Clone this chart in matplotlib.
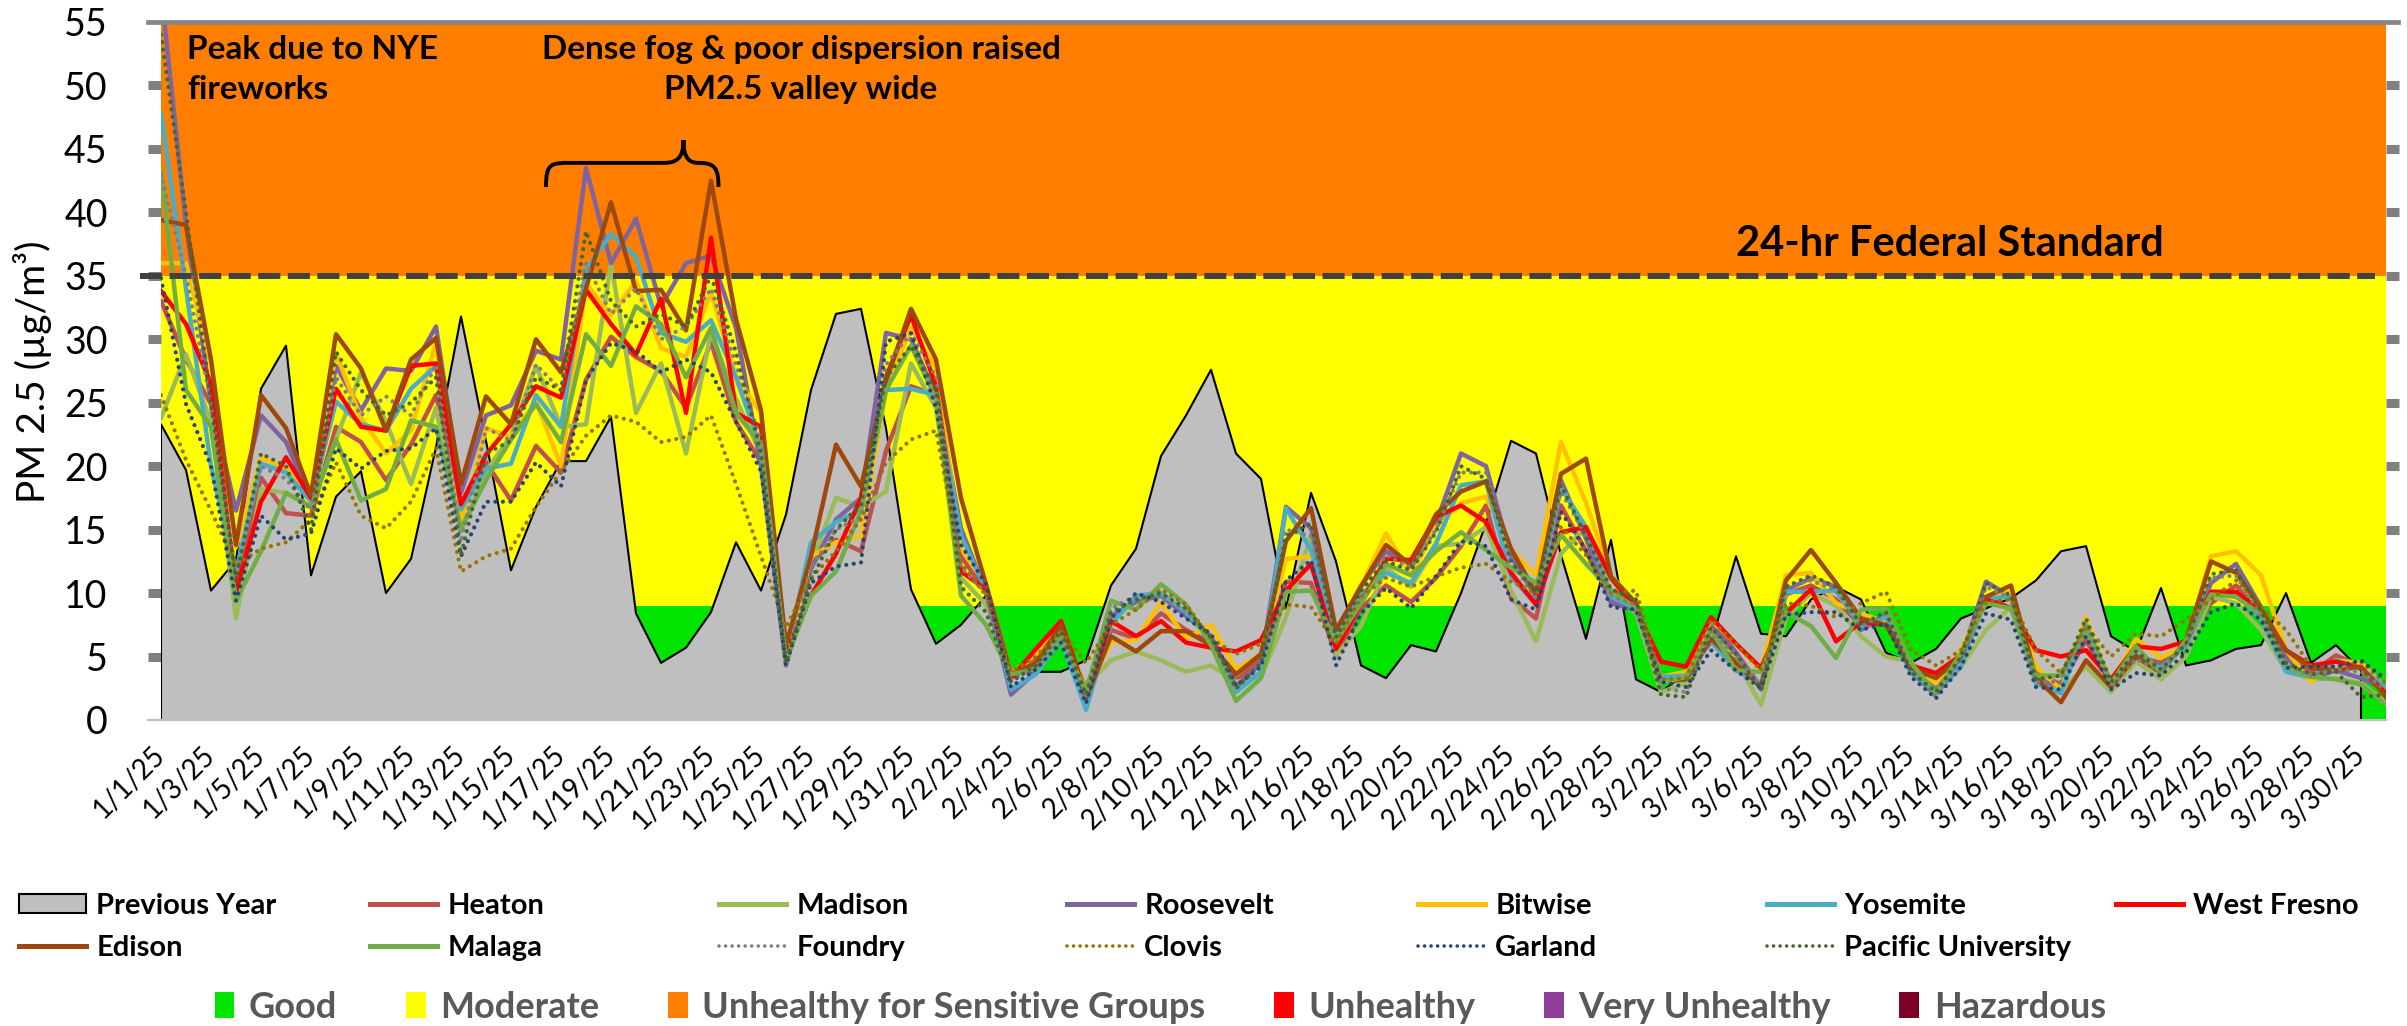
import numpy as np
import pandas as pd
import matplotlib
matplotlib.use('Agg')
import matplotlib.pyplot as plt
from matplotlib.lines import Line2D
from matplotlib.patches import Patch, PathPatch
from matplotlib.path import Path

plt.rcParams['font.family'] = ['Lato', 'DejaVu Sans']

W, H = 2407, 1026

# ---- data -------------------------------------------------------------
dates = pd.date_range('2025-01-01', '2025-03-31')
day_labels = [f"{d.month}/{d.day}/25" for d in dates]

prev_year = [23.3, 19.7, 10.2, 12.6, 26.1, 29.5, 11.4, 17.6, 19.6, 10.0,
             12.7, 21.5, 31.8, 22.0, 11.8, 16.8, 20.4, 20.4, 23.9, 8.4,
             4.5, 5.7, 8.5, 14.0, 10.2, 16.2, 26.0, 32.0, 32.4, 23.0,
             10.3, 6.0, 7.5, 9.8, 3.8, 3.8, 3.8, 4.7, 10.6, 13.5,
             20.8, 24.0, 27.6, 21.0, 19.0, 8.8, 17.9, 12.5, 4.3, 3.3,
             5.9, 5.4, 10.0, 15.5, 22.0, 21.0, 13.0, 6.4, 14.2, 3.2,
             2.2, 3.7, 6.0, 12.9, 6.8, 6.6, 9.5, 10.5, 9.5, 5.3,
             4.5, 5.6, 8.0, 8.8, 9.6, 11.0, 13.3, 13.7, 6.6, 5.4,
             10.4, 4.3, 4.7, 5.6, 5.9, 10.0, 4.5, 5.9, 3.9, np.nan]

heaton = [33.0, 28.4, 24.9, 10.8, 19.1, 16.3, 16.1, 23.1, 21.9, 18.9,
          21.7, 25.6, 17.0, 20.3, 17.3, 21.6, 19.5, 26.8, 30.2, 28.6,
          27.5, 24.6, 29.8, 23.5, 20.3, 4.5, 12.4, 14.2, 13.3, 21.2,
          26.3, 25.6, 12.9, 10.1, 3.3, 4.9, 7.0, 2.0, 7.1, 6.4,
          8.4, 7.1, 6.1, 3.1, 4.8, 10.9, 10.8, 5.1, 8.8, 10.6,
          9.3, 11.2, 13.7, 16.9, 9.6, 8.0, 16.9, 13.3, 9.5, 8.8,
          3.4, 3.7, 7.9, 5.3, 2.6, 9.9, 10.6, 9.5, 7.4, 7.9,
          3.8, 3.3, 5.0, 9.7, 8.8, 3.7, 2.8, 6.3, 2.9, 5.0,
          4.5, 6.0, 9.2, 10.6, 8.3, 5.0, 3.7, 5.1, 4.2, 2.2]

madison = [23.8, 28.8, 23.5, 8.0, 18.2, 17.9, 16.8, 22.1, 27.4, 23.5,
           18.6, 24.6, 14.9, 19.6, 22.4, 27.9, 23.1, 23.3, 36.0, 24.2,
           28.1, 21.0, 30.5, 25.3, 20.9, 4.5, 12.2, 17.5, 16.8, 18.0,
           28.1, 24.6, 11.2, 9.1, 3.8, 4.5, 6.8, 2.7, 4.7, 5.4,
           4.7, 3.8, 4.3, 3.0, 3.4, 8.1, 14.6, 5.1, 7.4, 12.0,
           10.5, 13.7, 13.9, 15.2, 10.2, 6.2, 13.1, 15.2, 10.2, 8.4,
           2.2, 2.9, 6.8, 4.7, 1.2, 8.1, 10.0, 9.0, 6.6, 5.0,
           4.6, 2.6, 4.2, 7.1, 8.9, 2.8, 2.4, 4.2, 2.2, 4.6,
           3.2, 5.0, 9.7, 9.2, 7.1, 3.9, 3.2, 3.3, 2.9, 1.4]

roosevelt = [57.5, 39.0, 25.0, 16.5, 24.0, 21.9, 17.3, 27.9, 24.4, 27.7,
             27.5, 31.0, 17.9, 24.0, 24.8, 29.1, 28.4, 43.5, 36.0, 39.5,
             32.6, 36.0, 36.6, 30.9, 20.0, 4.3, 11.9, 15.8, 17.5, 30.5,
             30.0, 25.6, 15.1, 10.1, 2.0, 3.8, 6.3, 2.4, 8.2, 9.3,
             9.8, 8.2, 6.6, 2.6, 4.5, 16.8, 15.1, 6.8, 10.6, 13.3,
             12.1, 15.5, 21.0, 20.0, 12.9, 9.7, 18.9, 14.3, 9.2, 8.7,
             3.2, 3.7, 7.4, 5.3, 2.4, 10.2, 11.2, 10.5, 7.1, 8.3,
             3.9, 2.4, 4.9, 10.9, 9.7, 3.2, 2.6, 7.2, 2.9, 5.1,
             4.2, 5.9, 10.8, 12.3, 8.9, 4.9, 3.3, 3.9, 3.3, 2.4]

bitwise = [36.0, 36.0, 28.0, 13.6, 20.7, 19.8, 17.9, 28.9, 23.8, 21.0,
           22.8, 29.8, 15.4, 23.0, 22.3, 25.1, 20.0, 34.4, 31.9, 34.6,
           29.3, 28.6, 33.7, 27.0, 24.2, 4.5, 12.9, 14.0, 14.5, 26.0,
           30.9, 27.7, 13.5, 10.7, 3.6, 5.2, 7.3, 2.2, 6.1, 6.3,
           9.3, 6.4, 7.5, 4.0, 5.2, 12.7, 12.9, 6.3, 10.5, 14.7,
           11.4, 15.2, 17.1, 17.6, 13.4, 11.4, 21.9, 17.1, 11.4, 9.2,
           3.4, 3.8, 7.9, 6.0, 3.9, 11.4, 11.6, 9.2, 8.4, 7.7,
           4.5, 2.9, 5.5, 9.5, 10.1, 4.2, 2.4, 8.1, 2.9, 6.4,
           4.9, 5.9, 12.9, 13.3, 11.4, 5.5, 3.0, 4.7, 4.5, 2.5]

yosemite = [47.8, 34.0, 20.0, 11.7, 20.2, 19.5, 17.2, 25.1, 23.3, 22.8,
            26.1, 27.9, 16.6, 19.8, 20.2, 25.6, 23.1, 35.5, 38.3, 36.5,
            30.5, 29.8, 31.5, 27.0, 21.4, 4.9, 14.0, 15.6, 16.5, 26.0,
            26.1, 25.6, 14.5, 10.3, 2.4, 3.6, 6.4, 0.8, 7.5, 9.8,
            10.0, 8.5, 6.3, 2.2, 3.8, 16.7, 13.4, 6.6, 9.9, 11.6,
            10.8, 13.9, 18.5, 18.8, 11.3, 9.1, 18.3, 15.2, 9.7, 8.8,
            3.4, 3.5, 6.2, 3.9, 2.9, 10.1, 10.1, 10.2, 7.4, 8.1,
            3.7, 2.1, 4.2, 9.6, 9.7, 2.9, 2.1, 7.5, 2.9, 4.9,
            4.1, 5.9, 10.1, 9.9, 8.0, 3.8, 3.4, 4.7, 4.1, 2.6]

west_fresno = [33.8, 31.2, 26.5, 10.1, 17.2, 20.7, 17.5, 26.1, 23.1, 22.8,
               27.9, 28.1, 17.0, 20.9, 23.3, 26.3, 25.4, 33.9, 31.2, 28.8,
               33.2, 24.2, 38.0, 24.2, 23.1, 5.2, 9.8, 13.1, 17.5, 27.0,
               31.9, 26.3, 11.7, 10.3, 3.3, 5.6, 7.8, 2.0, 7.8, 6.6,
               7.8, 6.1, 5.7, 5.4, 6.3, 10.2, 12.3, 5.6, 9.2, 12.7,
               12.6, 16.0, 16.9, 15.6, 11.6, 9.1, 14.8, 15.2, 11.2, 8.7,
               4.6, 4.2, 8.1, 6.0, 4.1, 8.4, 10.3, 6.2, 7.7, 7.5,
               4.3, 3.7, 5.1, 9.5, 8.8, 5.5, 5.0, 5.5, 3.2, 5.8,
               5.6, 6.2, 10.1, 10.1, 8.5, 5.5, 4.3, 4.6, 4.1, 2.1]

edison = [39.4, 39.0, 28.4, 13.8, 25.6, 23.0, 17.7, 30.4, 27.7, 22.8,
          28.4, 30.1, 18.6, 25.5, 23.3, 30.0, 27.4, 34.0, 40.8, 33.8,
          33.9, 30.7, 42.5, 31.6, 24.4, 5.9, 12.9, 21.7, 18.4, 26.7,
          32.4, 28.4, 17.5, 10.7, 3.6, 4.5, 7.5, 1.7, 6.6, 5.4,
          7.0, 7.0, 5.9, 3.6, 5.2, 14.1, 16.7, 7.1, 10.5, 13.8,
          12.2, 16.2, 18.0, 18.8, 13.5, 10.0, 19.4, 20.6, 11.3, 9.2,
          3.0, 3.2, 6.4, 4.5, 2.6, 11.0, 13.4, 10.8, 8.0, 7.5,
          4.1, 3.3, 5.0, 9.7, 10.6, 3.3, 1.4, 4.7, 2.6, 5.0,
          3.7, 6.3, 12.5, 11.6, 8.8, 5.5, 4.1, 3.9, 4.2, 1.8]

malaga = [43.2, 26.0, 23.1, 9.4, 13.3, 17.9, 16.8, 22.1, 17.3, 18.2,
          23.6, 23.1, 15.1, 18.9, 22.1, 24.9, 21.9, 30.4, 27.9, 32.6,
          31.2, 27.0, 30.9, 24.2, 21.7, 4.7, 9.8, 11.7, 16.5, 26.0,
          29.5, 25.3, 9.8, 7.5, 3.6, 4.0, 6.6, 2.2, 9.4, 8.7,
          10.7, 9.1, 5.9, 1.5, 3.3, 10.1, 10.2, 6.2, 9.2, 12.3,
          11.4, 13.3, 14.8, 13.4, 12.0, 10.8, 14.6, 12.3, 10.2, 8.8,
          2.9, 3.4, 7.1, 3.9, 3.8, 8.5, 7.4, 4.9, 8.7, 8.8,
          4.5, 2.1, 5.3, 9.2, 8.8, 3.5, 3.5, 7.1, 2.9, 5.8,
          3.7, 6.3, 9.9, 9.7, 8.3, 4.2, 3.4, 3.2, 2.8, 1.2]

foundry = [43.0, 35.0, 25.0, 11.5, 20.0, 19.0, 16.5, 27.0, 24.0, 25.5,
           24.0, 28.0, 14.0, 23.0, 22.0, 28.0, 26.0, 36.0, 32.0, 34.0,
           30.0, 31.0, 34.0, 28.0, 22.0, 4.8, 12.0, 15.0, 16.0, 28.0,
           30.5, 27.0, 12.0, 10.0, 3.2, 4.2, 6.8, 1.8, 8.8, 9.8,
           9.6, 8.6, 6.4, 2.4, 4.4, 15.0, 14.5, 6.5, 10.0, 13.0,
           12.0, 15.0, 19.5, 19.5, 12.5, 9.6, 18.0, 14.5, 9.8, 9.0,
           2.5, 2.2, 7.0, 5.0, 2.6, 10.5, 11.0, 10.2, 7.4, 8.4,
           3.8, 1.8, 4.8, 10.5, 9.6, 3.0, 3.0, 7.6, 2.6, 4.8,
           3.8, 6.0, 11.2, 11.4, 8.2, 4.4, 3.5, 4.0, 3.8, 2.4]

clovis = [25.6, 20.5, 16.5, 12.2, 13.5, 14.0, 15.8, 20.3, 16.1, 15.1,
          17.2, 21.4, 11.7, 12.9, 13.5, 16.8, 19.6, 22.4, 24.0, 23.5,
          21.9, 22.3, 24.0, 18.6, 12.9, 7.3, 11.2, 13.3, 15.8, 20.3,
          22.1, 22.8, 12.4, 9.8, 3.8, 5.0, 7.0, 4.5, 7.5, 8.7,
          10.3, 9.1, 6.4, 5.2, 6.0, 9.1, 8.9, 6.0, 9.7, 11.2,
          10.5, 11.3, 12.0, 12.3, 10.9, 10.0, 15.2, 13.0, 10.0, 10.2,
          3.2, 3.3, 7.9, 6.0, 3.9, 9.2, 9.0, 8.1, 9.2, 10.1,
          5.5, 4.3, 5.5, 9.3, 9.5, 5.5, 3.7, 7.4, 5.0, 6.8,
          6.6, 7.9, 9.5, 11.0, 8.9, 7.1, 4.2, 4.2, 4.6, 2.9]

garland = [34.8, 24.9, 20.0, 9.4, 16.1, 14.2, 14.7, 21.4, 19.8, 21.2,
           21.4, 23.0, 12.9, 17.2, 17.2, 20.3, 18.4, 26.8, 29.7, 29.1,
           27.4, 28.4, 27.4, 23.5, 19.6, 4.3, 10.8, 12.1, 12.4, 29.8,
           30.5, 24.6, 13.8, 10.7, 2.6, 4.0, 6.1, 1.3, 8.0, 10.0,
           9.3, 8.0, 6.8, 2.7, 4.2, 11.0, 12.6, 4.3, 8.4, 10.4,
           8.8, 11.3, 14.1, 13.7, 9.5, 8.7, 16.4, 13.4, 8.9, 8.7,
           3.0, 2.6, 5.5, 3.9, 2.5, 8.3, 8.5, 8.5, 7.1, 7.6,
           3.4, 1.7, 4.2, 8.4, 7.9, 2.6, 2.4, 6.6, 2.4, 3.7,
           3.5, 5.3, 8.5, 9.2, 7.9, 4.1, 4.2, 4.2, 4.7, 3.2]

pacific_univ = [54.0, 40.0, 25.0, 11.0, 21.0, 20.0, 15.0, 29.0, 26.0, 24.0,
                25.0, 27.0, 13.0, 21.0, 22.0, 27.0, 26.0, 38.5, 33.0, 31.0,
                32.0, 31.0, 35.0, 29.0, 21.0, 4.5, 11.0, 15.0, 17.0, 27.0,
                29.5, 26.0, 10.5, 8.5, 3.0, 4.3, 7.0, 2.0, 8.5, 9.5,
                10.0, 8.8, 6.5, 2.5, 4.5, 14.5, 15.5, 6.5, 10.2, 12.5,
                11.8, 14.8, 20.0, 19.0, 12.5, 10.0, 18.5, 14.5, 10.3, 9.5,
                2.0, 1.8, 7.3, 5.2, 2.4, 10.5, 11.4, 10.5, 7.5, 8.5,
                3.8, 2.2, 5.0, 10.8, 9.8, 3.2, 3.5, 8.0, 3.0, 5.4,
                4.0, 6.0, 11.5, 11.8, 8.6, 4.5, 3.6, 3.8, 1.8, 2.0]

# AQI bands (upper limits) and colours
band_tops = [9, 35, 55]
band_colors = ['#00E400', '#FFFF00', '#FF7E00']
aqi_names = ['Good', 'Moderate', 'Unhealthy for Sensitive Groups',
             'Unhealthy', 'Very Unhealthy', 'Hazardous']
aqi_colors = ['#00E400', '#FFFF00', '#FF7E00', '#FF0000', '#8F3F97', '#7E0023']
federal_std = 35

stations = [
    ('Heaton', heaton, '#C0504D', '-'),
    ('Madison', madison, '#9BBB59', '-'),
    ('Roosevelt', roosevelt, '#8064A2', '-'),
    ('Bitwise', bitwise, '#FFC000', '-'),
    ('Yosemite', yosemite, '#4BACC6', '-'),
    ('West Fresno', west_fresno, '#FF0000', '-'),
    ('Edison', edison, '#9E480E', '-'),
    ('Malaga', malaga, '#70AD47', '-'),
    ('Foundry', foundry, '#7F7F7F', ':'),
    ('Clovis', clovis, '#997300', ':'),
    ('Garland', garland, '#264478', ':'),
    ('Pacific University', pacific_univ, '#43682B', ':'),
]

# ---- figure -----------------------------------------------------------
fig = plt.figure(figsize=(W / 100, H / 100), dpi=100)
L, R, T, B = 161, 2386, 22, 720
ax = fig.add_axes([L / W, 1 - B / H, (R - L) / W, (B - T) / H])

x = np.arange(len(dates))
ax.set_xlim(0, len(dates) - 1)
ax.set_ylim(0, 55)

# coloured AQI bands
low = 0
for top, c in zip(band_tops, band_colors):
    ax.fill_between(x, low, top, color=c, lw=0, zorder=1)
    low = top

# previous year area
prev = np.array(prev_year, dtype=float)
ok = ~np.isnan(prev)
ax.fill_between(x[ok], 0, prev[ok], facecolor='#BFBFBF', edgecolor='none', zorder=2)
ax.plot(np.r_[x[ok][0], x[ok], x[ok][-1]], np.r_[0, prev[ok], 0],
        color='black', lw=1.5, zorder=2.2)

# station lines
dot_style = (0, (0.01, 1.8))
for name, vals, col, st in stations:
    if st == ':':
        ax.plot(x, vals, color=col, lw=3.0, ls=dot_style, dash_capstyle='round', zorder=3)
    else:
        ax.plot(x, vals, color=col, lw=3.2, zorder=3)

# federal standard dashed line
ax.axhline(federal_std, xmin=-21 / 2225, xmax=0.995, color='#404040', lw=4.3,
           dashes=(3.7, 1.25), clip_on=False, zorder=5)

# axis frame
for s in ['left', 'right', 'top', 'bottom']:
    ax.spines[s].set_visible(False)
ax.axhline(55, xmin=-13 / 2225, xmax=1 + 12 / 2225, color='#868686', lw=3.4,
           clip_on=False, zorder=6)
ax.axhline(0, xmin=-13 / 2225, xmax=1, color='#BFBFBF', lw=1.6, clip_on=False, zorder=6)

ax.set_yticks(range(0, 56, 5))
ax.tick_params(axis='y', which='major', direction='out', length=9.4, width=6.5,
               color='#808080', labelsize=27, pad=29, right=True, labelright=False)
yt = ax.yaxis.get_major_ticks()
for t in (yt[0], yt[-1]):
    t.tick1line.set_visible(False)
    t.tick2line.set_visible(False)

ax.set_xticks(x[::2])
ax.set_xticklabels(day_labels[::2], rotation=45, ha='right', va='center',
                   rotation_mode='anchor', fontsize=20)
ax.tick_params(axis='x', length=0, pad=22)

fig.text(33 / W, 1 - 372 / H, 'PM 2.5 (µg/m³)', rotation=90, ha='center',
         va='center', fontsize=28)

# annotations
fig.text(187 / W, 1 - 35 / H, 'Peak due to NYE\nfireworks', ha='left', va='top',
         fontsize=24, fontweight='bold', linespacing=1.45)
fig.text(801 / W, 1 - 35 / H, 'Dense fog & poor dispersion raised\nPM2.5 valley wide',
         ha='center', va='top', fontsize=24, fontweight='bold', linespacing=1.45,
         multialignment='center')
ax.text(1950 / 25 - L / 25, 36.6, '24-hr Federal Standard', ha='center',
        va='baseline', fontsize=30, fontweight='bold', zorder=7)

# curly brace over the fog episode
xl, xc, xr = 15.4, 20.9, 22.3
yb, ym, ytop = 42.0, 43.9, 45.7
verts = [(xl, yb), (xl, ym), (xl + 0.2, ym), (xl + 1.0, ym),
         (xc - 0.8, ym),
         (xc - 0.3, ym), (xc, ym + 0.3), (xc, ytop),
         (xc, ym + 0.3), (xc + 0.25, ym), (xc + 0.6, ym),
         (xr - 0.15, ym), (xr, ym - 0.4), (xr, yb)]
codes = [Path.MOVETO, Path.CURVE4, Path.CURVE4, Path.CURVE4, Path.LINETO,
         Path.CURVE4, Path.CURVE4, Path.CURVE4,
         Path.CURVE4, Path.CURVE4, Path.CURVE4,
         Path.CURVE4, Path.CURVE4, Path.CURVE4]
ax.add_patch(PathPatch(Path(verts, codes), fill=False, lw=2.8, color='black', zorder=7))

# ---- legends ----------------------------------------------------------
leg_prop = dict(weight='bold', size=21)
row1 = ['Previous Year'] + [s[0] for s in stations[:6]]
row2 = [s[0] for s in stations[6:]]
style = {s[0]: s for s in stations}
col_x = [19, 370, 719, 1067, 1418, 1767, 2116]
row_y = [906, 948]


def make_handle(name):
    if name == 'Previous Year':
        return Patch(facecolor='#BFBFBF', edgecolor='black', lw=1.5)
    _, _, col, st = style[name]
    if st == ':':
        return Line2D([], [], color=col, lw=2.6, ls=dot_style, dash_capstyle='round')
    return Line2D([], [], color=col, lw=3.6)


for r, names in enumerate([row1, row2]):
    for cx, name in zip(col_x, names):
        fig.legend([make_handle(name)], [name], loc='center left',
                   bbox_to_anchor=(cx / W, 1 - row_y[r] / H), frameon=False,
                   borderpad=0, borderaxespad=0, handlelength=2.3,
                   handleheight=0.65, handletextpad=0.35, prop=leg_prop)

aqi_handles = [Patch(facecolor=c, edgecolor='none') for c in aqi_colors]
fig.legend(aqi_handles, aqi_names, ncol=6, loc='center',
           bbox_to_anchor=(0.482, 1 - 1007 / H), frameon=False,
           prop=dict(weight='bold', size=26), labelcolor='#595959',
           handlelength=0.55, handleheight=0.7, handletextpad=0.4,
           columnspacing=1.9, borderpad=0, borderaxespad=0)

fig.savefig('out.png', dpi=100)
